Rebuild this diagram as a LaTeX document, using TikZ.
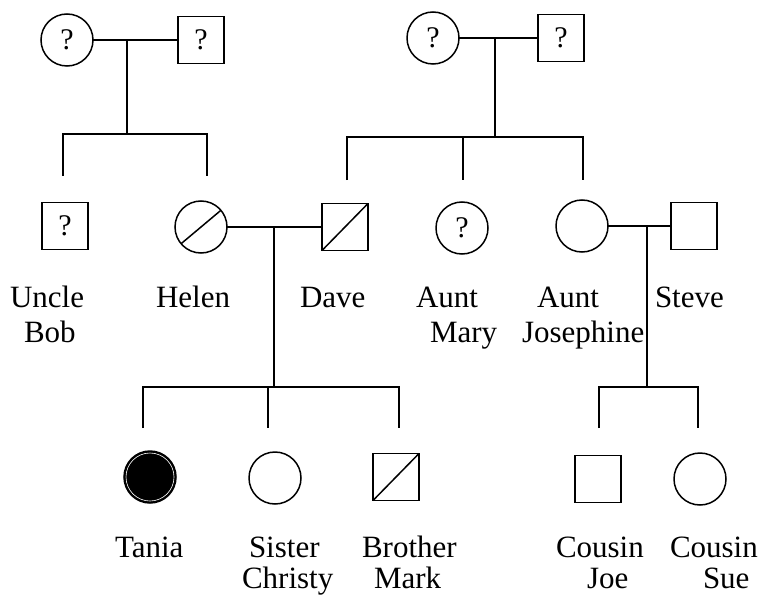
\documentclass[tikz,border=0pt]{standalone}
\usepackage{fontspec}
\setmainfont{Liberation Serif}
\begin{document}
\begin{tikzpicture}[x=1pt,y=-1pt,
  every node/.style={inner sep=0pt, outer sep=0pt},
  fem/.style={draw, circle, minimum size=52pt, line width=1.5pt, font=\fontsize{30}{34}\selectfont},
  mal/.style={draw, rectangle, minimum width=46pt, minimum height=47pt, line width=1.5pt, font=\fontsize{30}{34}\selectfont},
  con/.style={line width=1.8pt},
  slash/.style={line width=1.5pt},
  lbl/.style={anchor=base west, font=\fontsize{31}{36}\selectfont}
]
\useasboundingbox (0,0) rectangle (762,596);

% grandparents
\node[fem] (gm1) at (67,40) {?};
\node[mal] (gf1) at (201,40) {?};
\node[fem] (gm2) at (433,38) {?};
\node[mal] (gf2) at (561,38) {?};

% second generation
\node[mal] (bob) at (65,226) {?};
\node[fem] (helen) at (201,227) {};
\node[mal] (dave) at (345,227) {};
\node[fem] (mary) at (462,228) {?};
\node[fem] (jos) at (582,226) {};
\node[mal] (steve) at (694,226) {};

% third generation
\node[fem, fill=black] (tania) at (150,477) {};
\node[fem] (sister) at (275,478) {};
\node[mal] (brother) at (396,477) {};
\node[mal] (joe) at (598,479) {};
\node[fem] (sue) at (700,479) {};

% slashes
\draw[slash] (helen.220) -- (helen.40);
\draw[slash] (dave.south west) -- (dave.north east);
\draw[slash] (brother.south west) -- (brother.north east);
\draw[white, line width=0.6pt] (tania.center) circle (24pt);

% family 1
\coordinate (m1) at (127,40);
\coordinate (s1) at (127,134);
\coordinate (s1a) at (63,134);
\coordinate (s1b) at (207,134);
\coordinate (d1a) at (63,176);
\coordinate (d1b) at (207,176);
\draw[con] (gm1.east) -- (gf1.west);
\draw[con] (m1) -- (s1);
\draw[con] (d1a) -- (s1a) -- (s1b) -- (d1b);

% family 2
\coordinate (m2) at (495,38);
\coordinate (s2) at (495,137);
\coordinate (s2a) at (347,137);
\coordinate (s2b) at (463,137);
\coordinate (s2c) at (583,137);
\coordinate (d2a) at (347,180);
\coordinate (d2b) at (463,180);
\coordinate (d2c) at (583,180);
\draw[con] (gm2.east) -- (gf2.west);
\draw[con] (m2) -- (s2);
\draw[con] (d2a) -- (s2a) -- (s2c) -- (d2c);
\draw[con] (s2b) -- (d2b);

% family 3
\coordinate (m3) at (274,227);
\coordinate (s3) at (274,387);
\coordinate (s3a) at (143,387);
\coordinate (s3b) at (268,387);
\coordinate (s3c) at (399,387);
\coordinate (d3a) at (143,428);
\coordinate (d3b) at (268,428);
\coordinate (d3c) at (399,428);
\draw[con] (helen.east) -- (dave.west);
\draw[con] (m3) -- (s3);
\draw[con] (d3a) -- (s3a) -- (s3c) -- (d3c);
\draw[con] (s3b) -- (d3b);

% family 4
\coordinate (m4) at (647,226);
\coordinate (s4) at (647,387);
\coordinate (s4a) at (599,387);
\coordinate (s4b) at (698,387);
\coordinate (d4a) at (599,428);
\coordinate (d4b) at (698,428);
\draw[con] (jos.east) -- (steve.west);
\draw[con] (m4) -- (s4);
\draw[con] (d4a) -- (s4a) -- (s4b) -- (d4b);

% labels
\node[lbl] (l1a) at (10,307) {Uncle};
\node[lbl] (l1b) at (24,342) {Bob};
\node[lbl] (l2) at (156,307) {Helen};
\node[lbl] (l3) at (300,307) {Dave};
\node[lbl] (l4a) at (416,307) {Aunt};
\node[lbl] (l4b) at (430,342) {Mary};
\node[lbl] (l5a) at (537,307) {Aunt};
\node[lbl] (l5b) at (522,342) {Josephine};
\node[lbl] (l6) at (655,307) {Steve};
\node[lbl] (l7) at (115,557) {Tania};
\node[lbl] (l8a) at (249,557) {Sister};
\node[lbl] (l8b) at (242,588) {Christy};
\node[lbl] (l9a) at (362,557) {Brother};
\node[lbl] (l9b) at (374,588) {Mark};
\node[lbl] (l10a) at (556,557) {Cousin};
\node[lbl] (l10b) at (587,588) {Joe};
\node[lbl] (l11a) at (670,557) {Cousin};
\node[lbl] (l11b) at (703,588) {Sue};
\end{tikzpicture}
\end{document}
